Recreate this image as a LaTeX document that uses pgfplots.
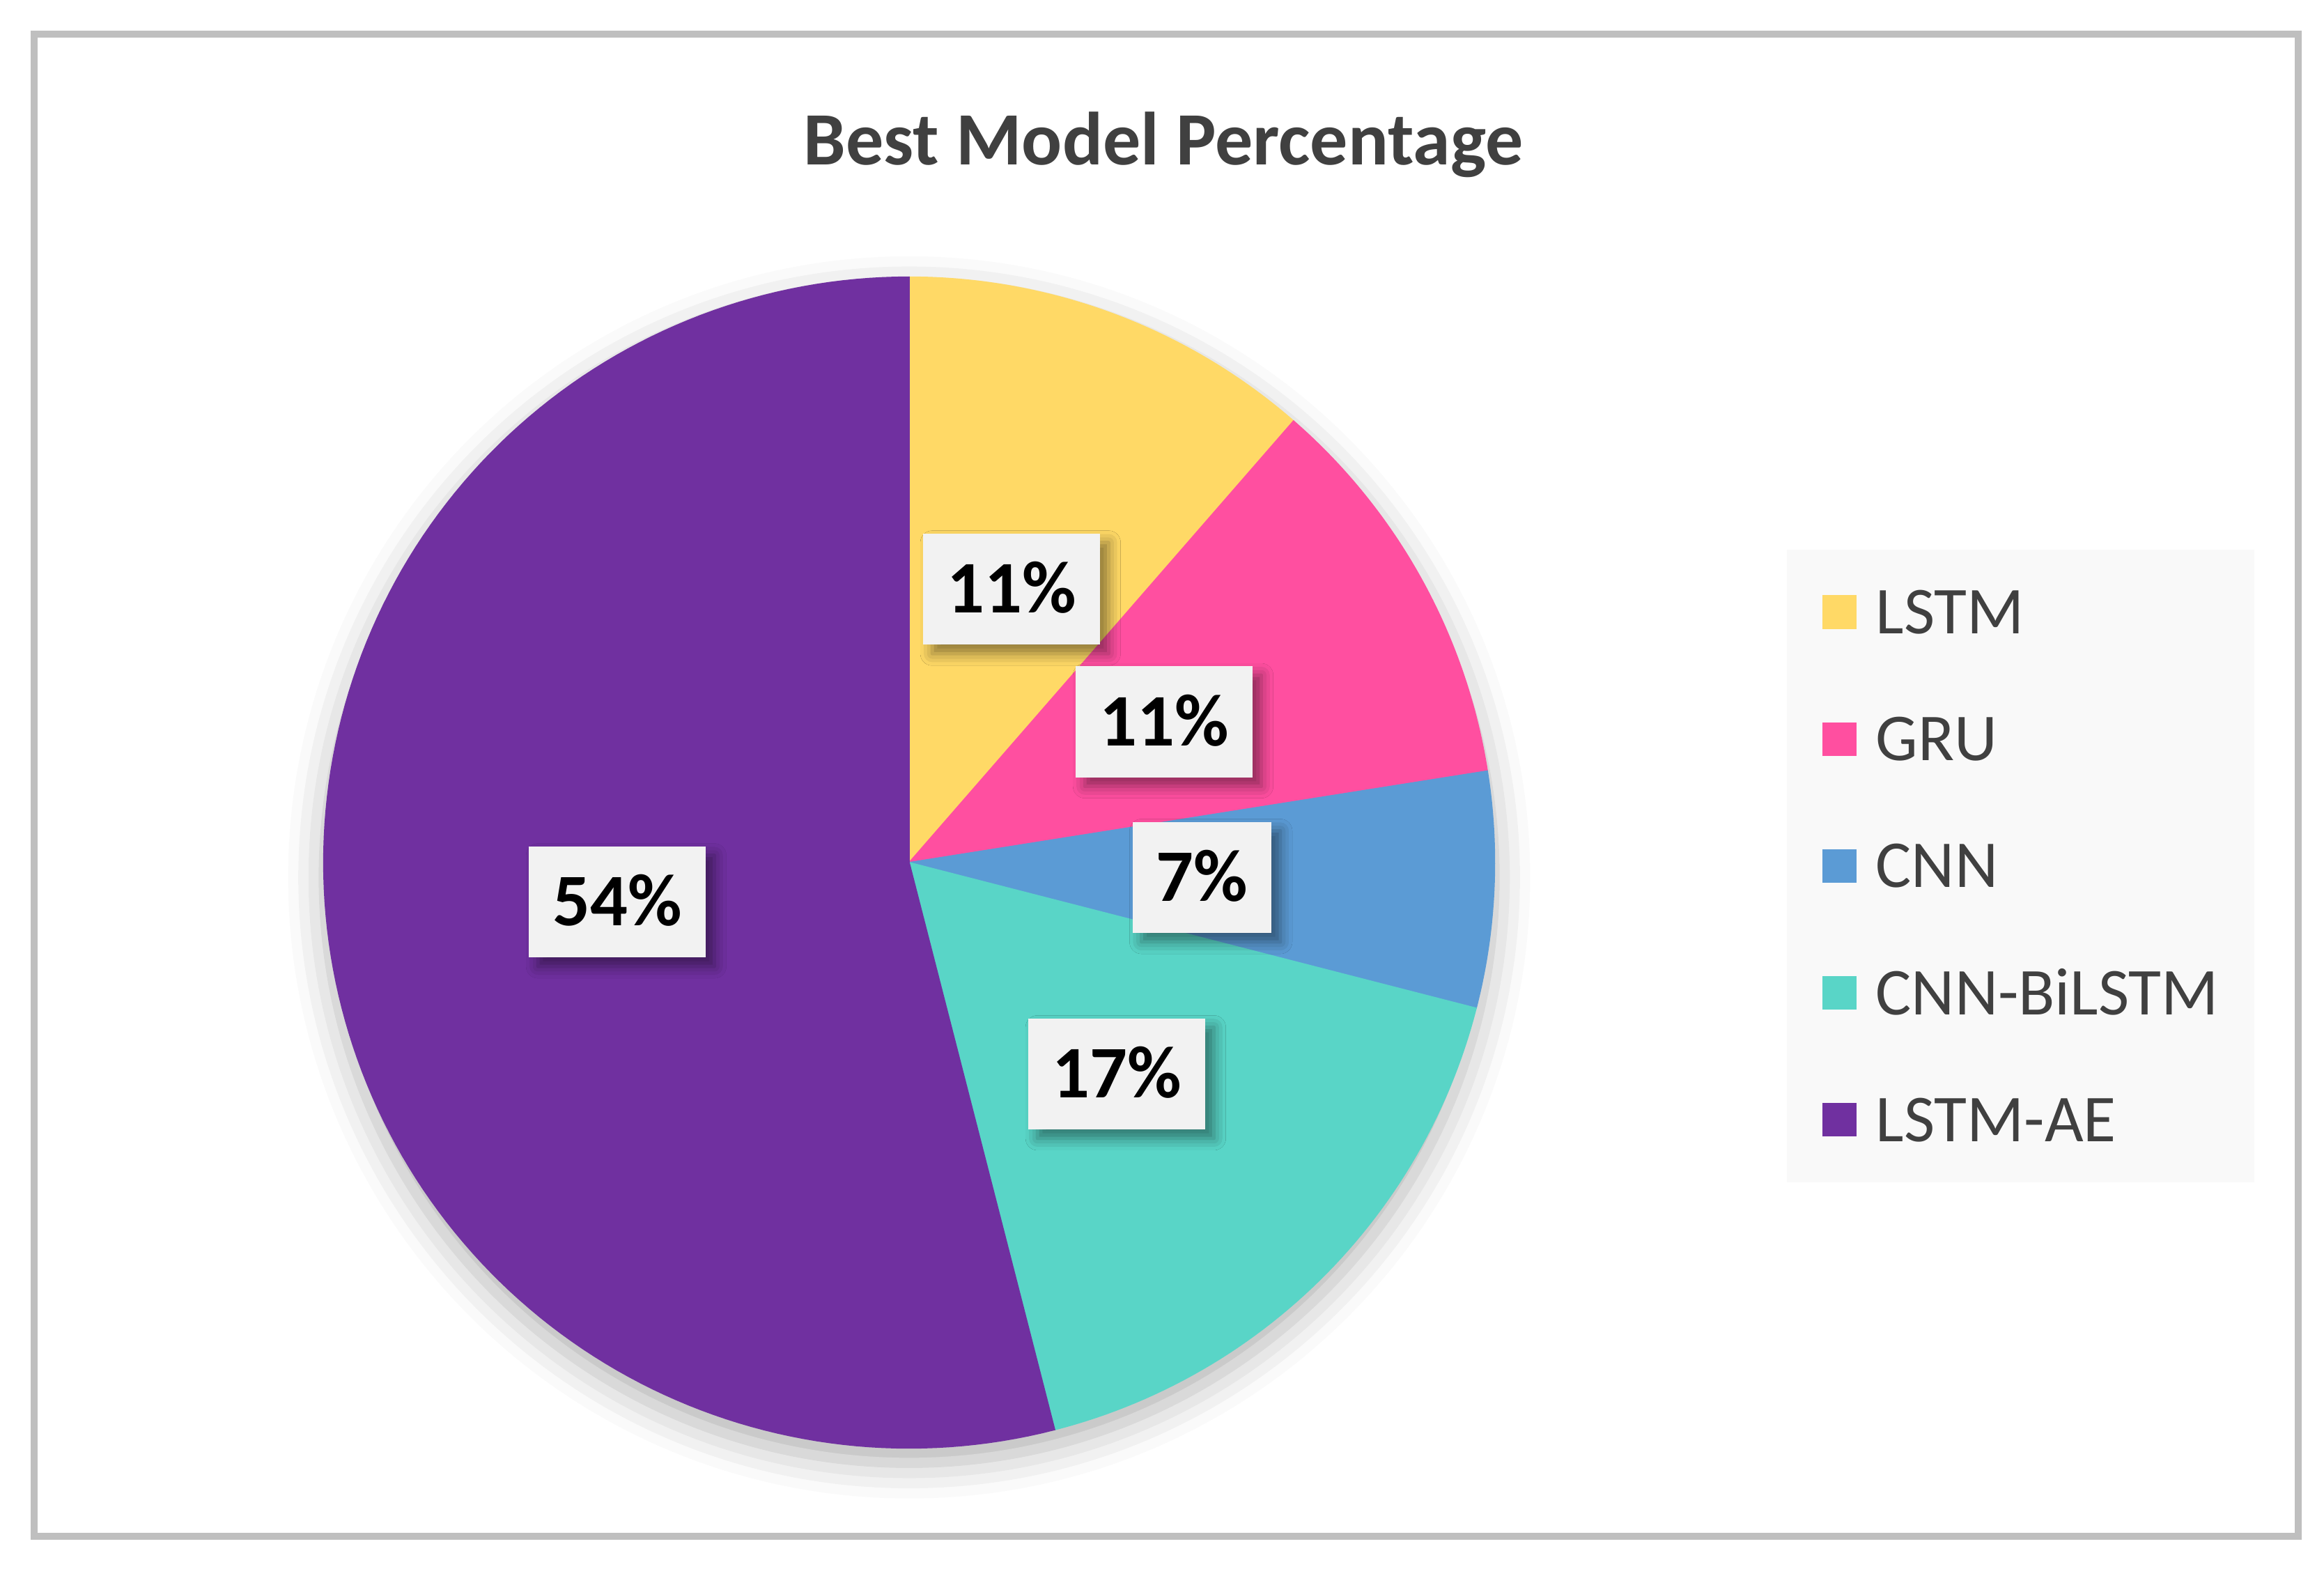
\documentclass[border=0pt]{standalone}
\usepackage{pgfplots}
\pgfplotsset{compat=1.18}
\usepackage{pgfplotstable}
\usepackage{fontspec}
\setmainfont{Carlito}
\usetikzlibrary{shadows.blur}

\definecolor{cLSTM}{HTML}{FFD966}
\definecolor{cGRU}{HTML}{FF4FA0}
\definecolor{cCNN}{HTML}{5B9BD5}
\definecolor{cCBi}{HTML}{59D5C7}
\definecolor{cAE}{HTML}{7030A0}
\definecolor{txtgray}{HTML}{404040}
\definecolor{bordergray}{HTML}{BFBFBF}
\definecolor{lblfill}{HTML}{F2F2F2}
\definecolor{legfill}{HTML}{F9F9F9}

\pgfplotstableread{
model pct
LSTM 11.4
GRU 11.1
CNN 6.5
CNN-BiLSTM 17.0
LSTM-AE 54.0
}\datatable

\pgfplotstablegetelem{0}{pct}\of\datatable\edef\pA{\pgfplotsretval}
\pgfplotstablegetelem{1}{pct}\of\datatable\edef\pB{\pgfplotsretval}
\pgfplotstablegetelem{2}{pct}\of\datatable\edef\pC{\pgfplotsretval}
\pgfplotstablegetelem{3}{pct}\of\datatable\edef\pD{\pgfplotsretval}
\pgfplotstablegetelem{4}{pct}\of\datatable\edef\pE{\pgfplotsretval}
\pgfmathsetmacro\angA{90}
\pgfmathsetmacro\angB{\angA-3.6*\pA}
\pgfmathsetmacro\angC{\angB-3.6*\pB}
\pgfmathsetmacro\angD{\angC-3.6*\pC}
\pgfmathsetmacro\angE{\angD-3.6*\pD}
\pgfmathsetmacro\angF{\angE-3.6*\pE}
\def\cx{613.4}
\def\cy{481.1}
\def\R{395}

\tikzset{lbl/.style={fill=lblfill, inner xsep=4pt, inner ysep=0pt, minimum height=18.75pt,
  text height=8pt, text depth=0pt, font=\fontsize{12.5}{14}\selectfont\bfseries, text=black,
  blur shadow={shadow xshift=1.5pt, shadow yshift=-1.5pt, shadow blur radius=2pt, shadow opacity=45}}}

\begin{document}
\begin{tikzpicture}
\begin{axis}[
  hide axis, scale only axis, clip=false,
  width=392pt, height=265.75pt,
  xmin=0, xmax=1568, ymin=0, ymax=1063,
  legend image code/.code={\fill[#1] (0pt,-2.75pt) rectangle (5.5pt,2.75pt);},
  legend cell align=left,
  legend style={at={(axis cs:1205,693)}, anchor=north west, fill=legfill, draw=none,
    font=\fontsize{11.3}{13}\selectfont, text=txtgray,
    inner xsep=6pt, inner ysep=6.9pt, row sep=14.1pt,
    nodes={inner sep=0pt, text height=7.3pt, text depth=0pt, anchor=west},
    /tikz/every odd column/.append style={column sep=3.25pt}},
]
\path (axis cs:0,0) rectangle (axis cs:1568,1063);
\draw[bordergray, line width=1.18pt] (axis cs:23,1040) rectangle (axis cs:1550.6,26.6);
\fill[white, blur shadow={shadow xshift=0pt, shadow yshift=-2.5pt, shadow blur radius=6pt, shadow opacity=30}]
  (axis cs:\cx,\cy) circle[radius=98.75pt];
\node[anchor=base, font=\fontsize{12.7}{15}\selectfont\bfseries, text=txtgray] at (axis cs:785,952) {Best Model Percentage};

\addplot[fill=cLSTM, draw=cLSTM, line width=0.2pt, domain=\angB:\angA, samples=60, variable=\t]
  ({\cx+\R*cos(\t)}, {\cy+\R*sin(\t)}) -- (axis cs:\cx,\cy) -- cycle;
\addplot[fill=cGRU, draw=cGRU, line width=0.2pt, domain=\angC:\angB, samples=60, variable=\t]
  ({\cx+\R*cos(\t)}, {\cy+\R*sin(\t)}) -- (axis cs:\cx,\cy) -- cycle;
\addplot[fill=cCNN, draw=cCNN, line width=0.2pt, domain=\angD:\angC, samples=60, variable=\t]
  ({\cx+\R*cos(\t)}, {\cy+\R*sin(\t)}) -- (axis cs:\cx,\cy) -- cycle;
\addplot[fill=cCBi, draw=cCBi, line width=0.2pt, domain=\angE:\angD, samples=60, variable=\t]
  ({\cx+\R*cos(\t)}, {\cy+\R*sin(\t)}) -- (axis cs:\cx,\cy) -- cycle;
\addplot[fill=cAE, draw=cAE, line width=0.2pt, domain=\angF:\angE, samples=150, variable=\t]
  ({\cx+\R*cos(\t)}, {\cy+\R*sin(\t)}) -- (axis cs:\cx,\cy) -- cycle;
\legend{LSTM, GRU, CNN, CNN-BiLSTM, LSTM-AE}

\node[lbl] at (axis cs:682.5,665.5) {11\%};
\node[lbl] at (axis cs:785.5,576) {11\%};
\node[lbl] at (axis cs:811,471) {7\%};
\node[lbl] at (axis cs:753.5,338.5) {17\%};
\node[lbl] at (axis cs:416.5,454.5) {54\%};
\end{axis}
\end{tikzpicture}
\end{document}
